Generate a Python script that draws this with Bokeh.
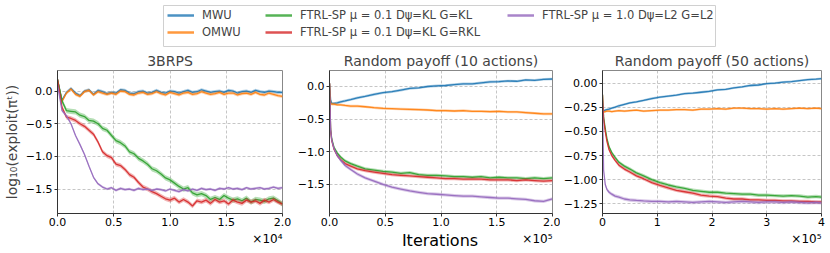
from bokeh.plotting import figure
from bokeh.layouts import column, row
from bokeh.models import Range1d, FixedTicker, Legend, LegendItem, Label
from bokeh.embed import file_html
from bokeh.resources import INLINE

FONT = "DejaVu Sans"

# ---------------- data ----------------
series_names = ["MWU", "OMWU",
                "FTRL-SP μ = 0.1 Dψ=KL G=KL",
                "FTRL-SP μ = 0.1 Dψ=KL G=RKL",
                "FTRL-SP μ = 1.0 Dψ=L2 G=L2"]
series_colors = ["#1f77b4", "#ff7f0e", "#2ca02c", "#d62728", "#9467bd"]
panel_titles = ["3BRPS", "Random payoff (10 actions)", "Random payoff (50 actions)"]

# Panel 1: 3BRPS
x_3brps = [0, 400, 800, 1200, 1600, 2000, 2400, 2800, 3200, 3600, 4000, 4400, 4800, 5200,
           5600, 6000, 6400, 6800, 7200, 7600, 8000, 8400, 8800, 9200, 9600, 10000, 10400,
           10800, 11200, 11600, 12000, 12400, 12800, 13200, 13600, 14000, 14400, 14800,
           15200, 15600, 16000, 16400, 16800, 17200, 17600, 18000, 18400, 18800, 19200,
           19600, 20000]
mwu_3brps = [0.18, -0.14, -0.02, 0.04, -0.03, -0.07, 0.0, 0.02, -0.05, 0.01, -0.01, -0.04,
             -0.02, -0.03, 0.02, 0.01, -0.03, -0.04, -0.01, 0.0, -0.03, -0.02, 0.01, -0.02,
             -0.03, 0.0, -0.01, -0.03, -0.01, 0.01, -0.02, -0.01, 0.02, 0.0, -0.02, -0.01,
             0.0, -0.02, 0.01, 0.0, -0.03, -0.01, 0.0, -0.02, 0.01, -0.01, -0.02, 0.0,
             -0.01, -0.02, -0.02]
omwu_3brps = [0.18, -0.16, -0.03, 0.03, -0.05, -0.08, -0.01, 0.01, -0.06, -0.01, -0.03,
              -0.05, -0.03, -0.05, 0.0, -0.01, -0.05, -0.06, -0.03, -0.02, -0.05, -0.04,
              -0.01, -0.04, -0.06, -0.02, -0.04, -0.06, -0.03, -0.02, -0.05, -0.04, -0.01,
              -0.03, -0.05, -0.04, -0.02, -0.05, -0.03, -0.03, -0.06, -0.04, -0.03, -0.05,
              -0.02, -0.05, -0.06, -0.03, -0.05, -0.07, -0.08]
klkl_3brps = [0.18, -0.15, -0.3, -0.31, -0.32, -0.37, -0.39, -0.45, -0.46, -0.5, -0.57,
              -0.6, -0.68, -0.76, -0.79, -0.84, -0.93, -0.96, -1.03, -1.07, -1.12, -1.19,
              -1.22, -1.27, -1.33, -1.36, -1.41, -1.46, -1.5, -1.48, -1.56, -1.59, -1.57,
              -1.6, -1.66, -1.63, -1.66, -1.6, -1.64, -1.67, -1.65, -1.68, -1.64, -1.7,
              -1.66, -1.67, -1.69, -1.65, -1.64, -1.68, -1.73]
klrkl_3brps = [0.18, -0.25, -0.4, -0.42, -0.45, -0.5, -0.54, -0.6, -0.66, -0.78, -0.93,
               -0.99, -1.02, -1.12, -1.14, -1.2, -1.28, -1.32, -1.4, -1.47, -1.5, -1.54,
               -1.57, -1.61, -1.65, -1.67, -1.64, -1.7, -1.66, -1.7, -1.76, -1.68, -1.7,
               -1.67, -1.72, -1.66, -1.7, -1.68, -1.73, -1.67, -1.7, -1.72, -1.67, -1.7,
               -1.68, -1.72, -1.67, -1.7, -1.66, -1.7, -1.73]
l2_3brps = [0.1, -0.3, -0.38, -0.5, -0.68, -0.82, -0.97, -1.15, -1.32, -1.42, -1.47, -1.5,
            -1.48, -1.52, -1.49, -1.51, -1.5, -1.52, -1.49, -1.51, -1.5, -1.52, -1.5, -1.51,
            -1.53, -1.5, -1.52, -1.54, -1.51, -1.53, -1.5, -1.52, -1.49, -1.51, -1.5, -1.52,
            -1.49, -1.5, -1.48, -1.5, -1.49, -1.51, -1.48, -1.5, -1.49, -1.48, -1.5, -1.49,
            -1.47, -1.49, -1.48]
band_3brps = [0.025, 0.025, 0.04, 0.035, 0.02]

# Panel 2: random payoff, 10 actions
x_rp10 = [0, 1000, 2000, 4000, 7000, 10000, 14000, 19000, 25000, 32000, 40000, 48000, 56000,
          64000, 72000, 80000, 88000, 96000, 104000, 112000, 120000, 128000, 136000, 144000,
          152000, 160000, 168000, 176000, 184000, 192000, 200000]
mwu_rp10 = [0.05, -0.2, -0.26, -0.26, -0.25, -0.235, -0.22, -0.2, -0.175, -0.15, -0.12,
            -0.095, -0.08, -0.055, -0.03, -0.02, 0.0, 0.01, 0.015, 0.03, 0.04, 0.04, 0.055,
            0.07, 0.075, 0.085, 0.08, 0.1, 0.095, 0.11, 0.115]
omwu_rp10 = [0.05, -0.26, -0.27, -0.27, -0.28, -0.28, -0.29, -0.3, -0.3, -0.31, -0.325,
             -0.335, -0.34, -0.345, -0.35, -0.355, -0.36, -0.37, -0.37, -0.375, -0.37,
             -0.38, -0.38, -0.385, -0.38, -0.39, -0.39, -0.4, -0.41, -0.42, -0.42]
klkl_rp10 = [0.05, -0.65, -0.8, -0.93, -1.02, -1.08, -1.14, -1.18, -1.22, -1.26, -1.28,
             -1.3, -1.31, -1.33, -1.32, -1.35, -1.36, -1.36, -1.37, -1.38, -1.38, -1.39,
             -1.38, -1.4, -1.39, -1.4, -1.4, -1.41, -1.4, -1.41, -1.4]
klrkl_rp10 = [0.05, -0.67, -0.83, -0.96, -1.06, -1.12, -1.18, -1.22, -1.26, -1.29, -1.31,
              -1.33, -1.35, -1.36, -1.37, -1.38, -1.39, -1.4, -1.41, -1.41, -1.42, -1.42,
              -1.42, -1.43, -1.43, -1.43, -1.44, -1.43, -1.44, -1.45, -1.44]
l2_rp10 = [0.05, -0.66, -0.82, -0.95, -1.06, -1.13, -1.21, -1.27, -1.34, -1.4, -1.45, -1.5,
           -1.54, -1.57, -1.6, -1.62, -1.64, -1.65, -1.66, -1.67, -1.68, -1.68, -1.69, -1.7,
           -1.71, -1.71, -1.72, -1.73, -1.75, -1.76, -1.72]
band_rp10 = [0.02, 0.02, 0.025, 0.025, 0.025]

# Panel 3: random payoff, 50 actions
x_rp50 = [0, 2000, 5000, 8000, 12000, 17000, 23000, 30000, 40000, 50000, 62000, 75000,
          90000, 105000, 120000, 135000, 150000, 165000, 180000, 195000, 210000, 225000,
          240000, 255000, 270000, 285000, 300000, 315000, 330000, 345000, 360000, 375000,
          390000, 400000]
mwu_rp50 = [-0.29, -0.29, -0.28, -0.275, -0.27, -0.26, -0.25, -0.235, -0.22, -0.205, -0.195,
            -0.18, -0.16, -0.145, -0.135, -0.125, -0.11, -0.105, -0.095, -0.085, -0.07,
            -0.065, -0.05, -0.04, -0.025, -0.02, -0.005, 0.0, 0.01, 0.015, 0.025, 0.035,
            0.04, 0.045]
omwu_rp50 = [-0.29, -0.3, -0.295, -0.29, -0.29, -0.295, -0.29, -0.285, -0.29, -0.285, -0.28,
             -0.29, -0.285, -0.28, -0.28, -0.275, -0.275, -0.28, -0.27, -0.27, -0.265,
             -0.27, -0.26, -0.26, -0.265, -0.265, -0.27, -0.265, -0.27, -0.265, -0.26,
             -0.265, -0.26, -0.265]
klkl_rp50 = [-0.12, -0.35, -0.47, -0.57, -0.66, -0.72, -0.77, -0.82, -0.86, -0.89, -0.93,
             -0.96, -1.0, -1.03, -1.055, -1.075, -1.09, -1.11, -1.12, -1.13, -1.13, -1.14,
             -1.145, -1.15, -1.15, -1.16, -1.16, -1.165, -1.17, -1.165, -1.17, -1.18,
             -1.175, -1.18]
klrkl_rp50 = [-0.12, -0.37, -0.5, -0.6, -0.69, -0.75, -0.8, -0.85, -0.89, -0.92, -0.96,
              -0.99, -1.03, -1.06, -1.085, -1.11, -1.125, -1.14, -1.16, -1.17, -1.175,
              -1.19, -1.2, -1.2, -1.21, -1.21, -1.215, -1.215, -1.22, -1.22, -1.225, -1.225,
              -1.23, -1.23]
l2_rp50 = [-0.2, -0.9, -1.05, -1.1, -1.13, -1.15, -1.17, -1.18, -1.2, -1.21, -1.215, -1.22,
           -1.225, -1.225, -1.23, -1.225, -1.23, -1.235, -1.23, -1.225, -1.23, -1.235, -1.23,
           -1.225, -1.23, -1.235, -1.23, -1.23, -1.235, -1.23, -1.235, -1.24, -1.235, -1.24]
band_rp50 = [0.012, 0.012, 0.018, 0.018, 0.018]

# ticks
xticks_3brps = [0, 5000, 10000, 15000, 20000]
xlabels_3brps = ["0.0", "0.5", "1.0", "1.5", "2.0"]
xticks_rp10 = [0, 50000, 100000, 150000, 200000]
xlabels_rp10 = ["0.0", "0.5", "1.0", "1.5", "2.0"]
xticks_rp50 = [0, 100000, 200000, 300000, 400000]
xlabels_rp50 = ["0", "1", "2", "3", "4"]
yticks_a = [-1.5, -1.0, -0.5, 0.0]
ylabels_a = ["−1.5", "−1.0", "−0.5", "0.0"]
yticks_b = [-1.25, -1.0, -0.75, -0.5, -0.25, 0.0]
ylabels_b = ["−1.25", "−1.00", "−0.75", "−0.50", "−0.25", "0.00"]
exp_labels = ["×10⁴", "×10⁵", "×10⁵"]
y_title = "log₁₀(exploit(πᵗ))"
x_title = "Iterations"

# ---------------- layout geometry (pixels) ----------------
FRAME_W = [225, 225, 224]
BORDER_L = [57, 33, 37]
BORDER_R = [12, 8, 9]
PANEL_H = 184          # 19 top + 146 frame + 19 bottom
LEGEND_H = 48
STRIP_H = 21


def make_panel(i, xs, ys_list, bands, xr, yr, xt, xl, yt, yl):
    p = figure(width=BORDER_L[i] + FRAME_W[i] + BORDER_R[i], height=PANEL_H,
               output_backend="svg", toolbar_location=None,
               x_range=Range1d(*xr), y_range=Range1d(*yr),
               min_border_left=BORDER_L[i], min_border_right=BORDER_R[i],
               min_border_top=19, min_border_bottom=19)
    p.title.text = panel_titles[i]
    p.title.align = "center"
    p.title.text_font = FONT
    p.title.text_font_size = "14px"
    p.title.text_font_style = "normal"
    p.title.standoff = 4
    for ys, hw, col in zip(ys_list, bands, series_colors):
        lo = [v - hw for v in ys]
        hi = [v + hw for v in ys]
        p.varea(x=xs, y1=lo, y2=hi, fill_color=col, fill_alpha=0.35)
        p.line(x=xs, y=ys, line_color=col, line_width=1.3, line_alpha=0.9)
    p.xaxis.ticker = FixedTicker(ticks=xt)
    p.xaxis.major_label_overrides = dict(zip(xt, xl))
    p.yaxis.ticker = FixedTicker(ticks=yt)
    p.yaxis.major_label_overrides = dict(zip(yt, yl))
    for ax in (p.xaxis, p.yaxis):
        ax.major_label_text_font = FONT
        ax.major_label_text_font_size = "11px"
        ax.major_label_text_color = "black"
        ax.major_tick_out = 3
        ax.major_tick_in = 0
        ax.minor_tick_out = 0
        ax.minor_tick_in = 0
        ax.major_label_standoff = 2
        ax.axis_line_color = "#333333"
        ax.major_tick_line_color = "#333333"
    p.xaxis.major_label_standoff = 1
    p.grid.grid_line_dash = "3 2"
    p.grid.grid_line_color = "#b8b8b8"
    p.grid.grid_line_width = 0.8
    p.outline_line_color = "#888888"
    p.background_fill_color = "white"
    p.border_fill_color = "white"
    return p


p1 = make_panel(0, x_3brps, [mwu_3brps, omwu_3brps, klkl_3brps, klrkl_3brps, l2_3brps],
                band_3brps, (0, 20000), (-1.875, 0.315), xticks_3brps, xlabels_3brps,
                yticks_a, ylabels_a)
p1.yaxis.axis_label = y_title
p1.yaxis.axis_label_text_font = FONT
p1.yaxis.axis_label_text_font_size = "14px"
p1.yaxis.axis_label_text_font_style = "normal"
p1.yaxis.axis_label_standoff = 3

p2 = make_panel(1, x_rp10, [mwu_rp10, omwu_rp10, klkl_rp10, klrkl_rp10, l2_rp10],
                band_rp10, (0, 200000), (-1.945, 0.245), xticks_rp10, xlabels_rp10,
                yticks_a, ylabels_a)

p3 = make_panel(2, x_rp50, [mwu_rp50, omwu_rp50, klkl_rp50, klrkl_rp50, l2_rp50],
                band_rp50, (0, 400000), (-1.35, 0.13), xticks_rp50, xlabels_rp50,
                yticks_b, ylabels_b)

TOTAL_W = sum(BORDER_L) + sum(FRAME_W) + sum(BORDER_R)

# ---------------- bottom strip: offset texts and shared x label ----------------
strip = figure(width=TOTAL_W, height=STRIP_H, output_backend="svg", toolbar_location=None,
               x_range=Range1d(0, TOTAL_W), y_range=Range1d(0, STRIP_H),
               x_axis_type=None, y_axis_type=None,
               min_border_left=0, min_border_right=0, min_border_top=0, min_border_bottom=0)
strip.grid.visible = False
strip.outline_line_color = None
left = 0
for i in range(3):
    fr_left = left + BORDER_L[i]
    fr_right = fr_left + FRAME_W[i]
    strip.add_layout(Label(x=fr_right, y=STRIP_H - 6, text=exp_labels[i], text_align="right",
                           text_baseline="middle", text_font=FONT, text_font_size="12px",
                           text_color="black"))
    if i == 1:
        strip.add_layout(Label(x=(fr_left + fr_right) / 2, y=STRIP_H - 8, text=x_title,
                               text_align="center", text_baseline="middle", text_font=FONT,
                               text_font_size="16px", text_color="black"))
    left = fr_right + BORDER_R[i]

# ---------------- legend strip ----------------
lg = figure(width=TOTAL_W, height=LEGEND_H, output_backend="svg", toolbar_location=None,
            x_range=Range1d(0, 1), y_range=Range1d(0, 1),
            x_axis_type=None, y_axis_type=None,
            min_border_left=163, min_border_right=TOTAL_W - 715, min_border_top=5,
            min_border_bottom=2)
lg.grid.visible = False
lg.outline_line_color = "#d0d0d0"
lg.outline_line_width = 1
dummies = []
for col in series_colors:
    dummies.append(lg.line(x=[-2, -1], y=[-2, -1], line_color=col, line_width=2.5,
                           line_alpha=0.8))

groups = [([0, 1], (4, 7)), ([2, 3], (102, 7)), ([4], (344, 24))]
for idxs, loc in groups:
    leg = Legend(items=[LegendItem(label=series_names[i], renderers=[dummies[i]]) for i in idxs],
                 location=loc, orientation="vertical", padding=0, margin=0, spacing=3,
                 glyph_width=27, glyph_height=14, label_height=14, label_standoff=8,
                 label_text_font=FONT, label_text_font_size="11.5px",
                 border_line_color=None, background_fill_alpha=0)
    lg.add_layout(leg)

layout = column(row(lg), row(p1, p2, p3), row(strip))
open("out.html", "w").write(file_html(layout, INLINE))
